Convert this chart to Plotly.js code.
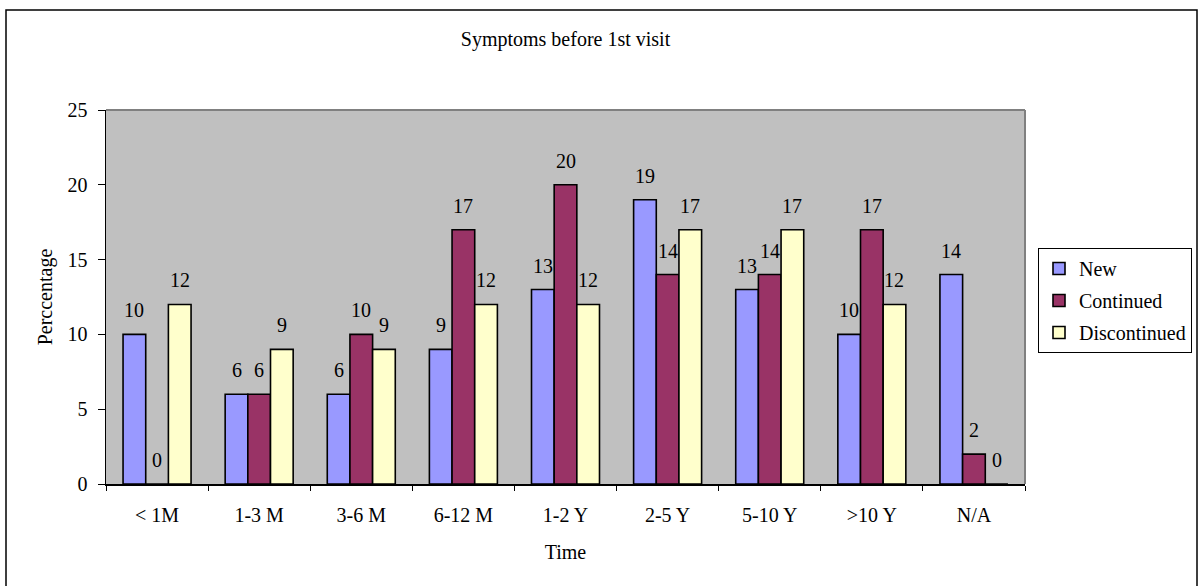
<!DOCTYPE html>
<html>
<head>
<meta charset="utf-8">
<script src="https://cdn.plot.ly/plotly-3.0.1.min.js"></script>
<style>
html,body{margin:0;padding:0;background:#fff;}
#chart{width:1200px;height:586px;}
</style>
</head>
<body>
<div id="chart"></div>
<script>
const categories = ["< 1M", "1-3 M", "3-6 M", "6-12 M", "1-2 Y", "2-5 Y", "5-10 Y", ">10 Y", "N/A"];
const seriesNames = ["New", "Continued", "Discontinued"];
const newVals = [10, 6, 6, 9, 13, 19, 13, 10, 14];
const continuedVals = [0, 6, 10, 17, 20, 14, 14, 17, 2];
const discontinuedVals = [12, 9, 9, 12, 12, 17, 17, 12, 0];
const colors = ["#9999FF", "#993366", "#FFFFCC"];

const W = 1200, H = 586;
const M = {l: 106, r: 175, t: 110, b: 102};
const plotW = W - M.l - M.r, plotH = H - M.t - M.b;
const bargap = 0.334;
const FONT = "Liberation Serif";
const FS = 20;

const allVals = [newVals, continuedVals, discontinuedVals];
const traces = allVals.map((vals, i) => ({
  type: "bar",
  name: seriesNames[i],
  legendgroup: "g" + i,
  x: categories,
  y: vals,
  marker: {color: colors[i], line: {color: "#000000", width: 1.6}},
  hoverinfo: "x+y+name"
}));

const barPx = plotW / categories.length * (1 - bargap) / 3;
const annotations = [];
allVals.forEach((vals, i) => {
  vals.forEach((v, j) => {
    annotations.push({
      x: categories[j], y: v, xref: "x", yref: "y",
      text: String(v), showarrow: false,
      xshift: (i - 1) * barPx, yshift: 24,
      yanchor: "middle", xanchor: "center",
      font: {family: FONT, size: FS, color: "#000"}
    });
  });
});

const px2x = p => (p - M.l) / plotW;
const px2y = p => (H - M.b - p) / plotH;

const shapes = [
  {type: "line", xref: "paper", yref: "paper", x0: 0, x1: 1, y0: 1, y1: 1, line: {color: "#808080", width: 2}},
  {type: "line", xref: "paper", yref: "paper", x0: 1, x1: 1, y0: 0, y1: 1, line: {color: "#808080", width: 2}},
  {type: "rect", xref: "paper", yref: "paper", x0: px2x(6), x1: px2x(1197), y0: px2y(600), y1: px2y(10),
   line: {color: "#000000", width: 1.5}, fillcolor: "rgba(0,0,0,0)", layer: "below"}
];

const layout = {
  width: W, height: H,
  margin: M,
  paper_bgcolor: "#ffffff",
  plot_bgcolor: "#C0C0C0",
  font: {family: FONT, size: FS, color: "#000"},
  title: {text: "Symptoms before 1st visit", x: 0.5, xref: "paper", y: 1 - 39 / H, yanchor: "middle",
          font: {family: FONT, size: FS, color: "#000"}},
  barmode: "group",
  bargap: bargap,
  bargroupgap: 0,
  showlegend: true,
  legend: {
    xref: "container", yref: "container",
    x: 1038 / W, xanchor: "left", y: 1 - 248 / H, yanchor: "top",
    bordercolor: "#000", borderwidth: 1, bgcolor: "#fff",
    font: {family: FONT, size: FS, color: "#000"},
    itemwidth: 30, tracegroupgap: 3
  },
  xaxis: {
    type: "category",
    showline: true, linecolor: "#000", linewidth: 1.5,
    ticks: "outside", tickson: "boundaries", ticklen: 5, tickcolor: "#000", tickwidth: 1,
    ticklabelstandoff: 12,
    showgrid: false, zeroline: false,
    tickfont: {family: FONT, size: FS, color: "#000"},
    title: {text: "Time", font: {family: FONT, size: FS, color: "#000"}, standoff: 20}
  },
  yaxis: {
    range: [0, 25], dtick: 5, tick0: 0,
    showline: true, linecolor: "#000", linewidth: 1.5,
    ticks: "outside", ticklen: 7, tickcolor: "#000", tickwidth: 1,
    ticklabelstandoff: 6,
    showgrid: false, zeroline: false,
    tickfont: {family: FONT, size: FS, color: "#000"},
    title: {text: "Perccentage", font: {family: FONT, size: FS, color: "#000"}, standoff: 9}
  },
  annotations: annotations,
  shapes: shapes
};

Plotly.newPlot("chart", traces, layout, {displayModeBar: false, staticPlot: true});
</script>
</body>
</html>
